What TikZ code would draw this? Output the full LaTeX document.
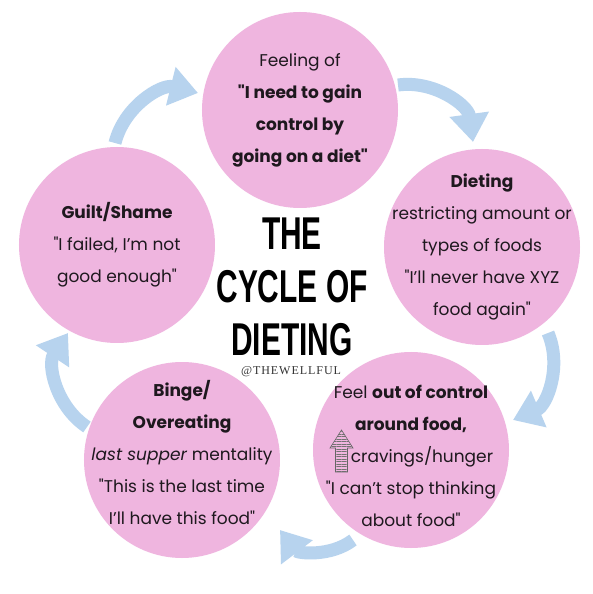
\documentclass[tikz,border=0pt]{standalone}
\usepackage{fontspec}
\setmainfont{Poppins}
\newfontfamily\quotefont{Poppins}
\newfontfamily\titlefont{Liberation Sans}[FakeStretch=0.65]
\newfontfamily\tagfont{Liberation Serif}[LetterSpace=8]
\usetikzlibrary{arrows.meta,calc,patterns.meta}
\definecolor{petal}{RGB}{239,181,223}
\definecolor{sky}{RGB}{183,211,238}
\definecolor{ink}{RGB}{30,24,30}
\newcommand{\qt}{{\quotefont"}}

\begin{document}
\begin{tikzpicture}[
    x=1pt,y=1pt,
    stage/.style={circle,fill=petal,minimum size=196pt,inner sep=0pt},
    stagetext/.style={align=center,text=ink,inner sep=0pt,
      font=\fontsize{17}{32}\selectfont},
    heading/.style={align=center,text=black,inner sep=0pt,
      font=\titlefont\bfseries\fontsize{46}{53}\selectfont},
    handle/.style={text=black!80,inner sep=0pt,font=\tagfont\fontsize{12}{14}\selectfont},
    cyclearrow/.style={-{Triangle[length=28pt,width=38pt]},line width=13pt,draw=sky},
    hatched/.style={draw=black!60,line width=0.6pt,
      pattern={Lines[angle=0,distance=2.5pt,line width=0.9pt]},pattern color=black!55}
  ]
    \useasboundingbox[fill=white] (-300,-294) rectangle (292,300);
    \node[stage] (c1) at (0,190) {};
    \node[stage] (c2) at (182,53) {};
    \node[stage] (c3) at (111,-150) {};
    \node[stage] (c4) at (-118,-160) {};
    \node[stage] (c5) at (-183,55) {};
    \node[stagetext] (t1) at (c1) {Feeling of\\\textbf{\qt I need to gain}\\\textbf{control by}\\\textbf{going on a diet\qt}};
    \node[stagetext] (t2) at (c2) {\textbf{Dieting}\\restricting amount or\\types of foods\\\qt I'll never have XYZ\\food again\qt};
    \node[stagetext] (t3) at ($(c3)+(0,-6)$) {Feel \textbf{out of control}\\\textbf{around food,}\\\hspace*{22pt}cravings/hunger\\\qt I can't stop thinking\\about food\qt};
    \node[stagetext] (t4) at ($(c4)+(0,8)$) {\textbf{Binge/}\\\textbf{Overeating}\\\textit{last supper} mentality\\\qt This is the last time\\I'll have this food\qt};
    \node[stagetext] (t5) at (c5) {\textbf{Guilt/Shame}\\\qt I failed, I'm not\\good enough\qt};
    \coordinate (up) at ($(c3)+(-69.5,-1)$);
    \draw[hatched,shift={(up)}] (-6,-21) -- (6,-21) -- (6,3) -- (11.5,3) -- (0,21)
      -- (-11.5,3) -- (-6,3) -- cycle;
    \node[heading] (ttl) at (-8,13) {THE\\CYCLE OF\\DIETING};
    \node[handle] (tag) at (-9,-72) {@THEWELLFUL};
    \coordinate (a1s) at (98,215);
    \coordinate (a1e) at (173,158);
    \coordinate (a2s) at (248,-33);
    \coordinate (a2e) at (213,-120);
    \coordinate (a3s) at (53,-240);
    \coordinate (a3e) at (-20,-230);
    \coordinate (a4s) at (-213,-127);
    \coordinate (a4e) at (-232,-33);
    \coordinate (a5s) at (-185,157);
    \coordinate (a5e) at (-102,207);
    \draw[cyclearrow] (a1s) to[bend left=45] (a1e);
    \draw[cyclearrow] (a2s) to[bend left=45] (a2e);
    \draw[cyclearrow] (a3s) to[bend left=45] (a3e);
    \draw[cyclearrow] (a4s) to[bend left=45] (a4e);
    \draw[cyclearrow] (a5s) to[bend left=45] (a5e);
\end{tikzpicture}
\end{document}
